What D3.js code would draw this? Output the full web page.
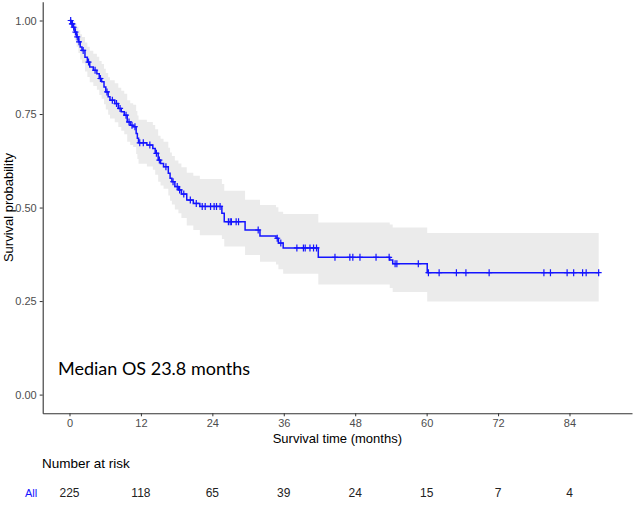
<!DOCTYPE html>
<html><head><meta charset="utf-8">
<script src="https://cdn.jsdelivr.net/npm/d3@7"></script>
<style>body{margin:0;background:#fff}svg{display:block}</style>
</head><body><svg id="c" width="633" height="505"></svg>
<script>
// Kaplan-Meier step data (months, survival, 95% CI)
const stepTimes = [0,0.3,0.6,0.9,1.2,1.5,1.8,2.1,2.6,3.0,3.4,4.0,4.6,5.0,5.4,5.8,6.1,6.5,6.8,7.6,8.2,8.7,9.2,9.7,10.2,10.7,11.2,11.4,11.6,13.0,14.0,14.4,14.9,15.3,15.8,16.6,16.9,17.2,17.7,18.3,18.8,19.7,20.8,21.9,25.6,26.0,29.5,32.0,34.7,35.1,35.9,41.8,53.8,54.3,60.1,88.9];
const survival  = [1.0,0.991,0.982,0.969,0.956,0.943,0.929,0.920,0.902,0.889,0.876,0.867,0.858,0.845,0.836,0.822,0.809,0.796,0.787,0.778,0.765,0.756,0.747,0.729,0.720,0.716,0.698,0.685,0.673,0.667,0.658,0.645,0.627,0.618,0.609,0.592,0.578,0.569,0.556,0.547,0.536,0.520,0.511,0.503,0.485,0.462,0.440,0.424,0.418,0.405,0.392,0.367,0.360,0.350,0.326,0.326];
const upperCI   = [1.0,1.0,0.999,0.992,0.983,0.974,0.963,0.956,0.941,0.930,0.919,0.911,0.903,0.892,0.884,0.871,0.860,0.848,0.840,0.832,0.820,0.812,0.804,0.787,0.779,0.775,0.758,0.746,0.735,0.729,0.721,0.709,0.692,0.684,0.676,0.660,0.647,0.638,0.626,0.618,0.608,0.593,0.585,0.576,0.563,0.545,0.521,0.507,0.501,0.489,0.483,0.460,0.455,0.447,0.432,0.432];
const lowerCI   = [1.0,0.978,0.965,0.947,0.930,0.913,0.896,0.886,0.864,0.849,0.835,0.825,0.815,0.801,0.791,0.776,0.762,0.748,0.738,0.728,0.715,0.705,0.696,0.676,0.667,0.662,0.643,0.630,0.617,0.610,0.601,0.588,0.569,0.559,0.550,0.532,0.518,0.508,0.495,0.485,0.472,0.452,0.440,0.426,0.416,0.396,0.373,0.355,0.348,0.335,0.323,0.294,0.285,0.274,0.249,0.249];
const censorTimes = [0.2,0.4,0.5,0.7,1.0,1.3,1.6,2.3,3.2,4.3,5.2,6.3,7.2,7.9,8.5,9.5,10.0,10.5,11.0,11.8,12.4,13.5,14.6,15.1,16.2,17.4,18.1,18.5,19.2,20.3,21.3,22.3,22.8,23.7,24.3,24.7,25.3,26.7,27.0,27.2,28.0,28.4,31.7,34.9,35.5,38.2,39.3,39.6,40.4,41.0,41.5,44.6,47.1,47.6,48.8,51.5,53.7,54.7,55.0,58.6,60.3,62.1,65.0,66.6,70.5,79.7,80.8,83.6,84.7,86.2,86.8,88.9];
const xTicks = [0,12,24,36,48,60,72,84];
const yTicks = [0,0.25,0.5,0.75,1.0];
const riskTimes = [0,12,24,36,48,60,72,84];
const riskCounts = [225,118,65,39,24,15,7,4];
const riskGroup = "All";
const medianText = "Median OS 23.8 months";

const svg = d3.select("#c");
const L = 42.7, R = 632, T = 1.8, B = 413.3;
const x = d3.scaleLinear().domain([-4.5, 94.5]).range([L, R]);
const y = d3.scaleLinear().domain([-0.05, 1.05]).range([B, T]);

const data = stepTimes.map((t,i)=>({t, s:survival[i], u:upperCI[i], l:lowerCI[i]}));

svg.append("path").datum(data)
  .attr("d", d3.area().curve(d3.curveStepAfter).x(d=>x(d.t)).y0(d=>y(d.l)).y1(d=>y(d.u)))
  .attr("fill", "#ebebeb");

svg.append("path").datum(data)
  .attr("d", d3.line().curve(d3.curveStepAfter).x(d=>x(d.t)).y(d=>y(d.s)))
  .attr("fill", "none").attr("stroke", "#1414ff").attr("stroke-width", 1.5);

const bis = d3.bisector(d=>d.t).right;
const sAt = t => data[Math.max(0, bis(data, t)-1)].s;
svg.append("g").selectAll("path").data(censorTimes).join("path")
  .attr("d", t => { const cx = x(t), cy = y(sAt(t)); return `M${cx-3},${cy}h6M${cx},${cy-3.5}v7`; })
  .attr("stroke", "#1414ff").attr("stroke-width", 1.2).attr("fill","none");

// axes
const xAxis = svg.append("g").attr("transform", `translate(0,${B})`)
  .call(d3.axisBottom(x).tickValues(xTicks).tickSize(3).tickPadding(3).tickSizeOuter(0));
const yAxis = svg.append("g").attr("transform", `translate(${L},0)`)
  .call(d3.axisLeft(y).tickValues(yTicks).tickFormat(d3.format(".2f")).tickSize(3).tickPadding(3).tickSizeOuter(0));
[xAxis, yAxis].forEach(g => {
  g.select(".domain").attr("stroke", "#333").attr("stroke-width", 1.1);
  g.selectAll(".tick line").attr("stroke", "#333");
  g.selectAll("text").attr("fill", "#4d4d4d").style("font-family", "'Liberation Sans', Arial, sans-serif").style("font-size", "11px");
});

svg.append("text").attr("x", (L+R)/2).attr("y", 443).attr("text-anchor","middle")
  .style("font-family","'Liberation Sans', Arial, sans-serif").style("font-size","13px").text("Survival time (months)");
svg.append("text").attr("transform", `translate(13,${y(0.5)}) rotate(-90)`).attr("text-anchor","middle")
  .style("font-family","'Liberation Sans', Arial, sans-serif").style("font-size","13px").text("Survival probability");

svg.append("text").attr("x", 58).attr("y", 375)
  .style("font-family","Lato, 'Open Sans', sans-serif").style("font-size","18px").text(medianText);

// risk table
svg.append("text").attr("x", 42).attr("y", 468)
  .style("font-family","'Liberation Sans', Arial, sans-serif").style("font-size","13.5px").text("Number at risk");
svg.append("text").attr("x", 25).attr("y", 497)
  .style("font-family","'Liberation Sans', Arial, sans-serif").style("font-size","11px").attr("fill","#1414ff").text(riskGroup);
svg.append("g").selectAll("text").data(riskCounts).join("text")
  .attr("x", (d,i)=>x(riskTimes[i])).attr("y", 497).attr("text-anchor","middle")
  .style("font-family","'Liberation Sans', Arial, sans-serif").style("font-size","12px").attr("fill","#222")
  .text(d=>d);
</script></body></html>
